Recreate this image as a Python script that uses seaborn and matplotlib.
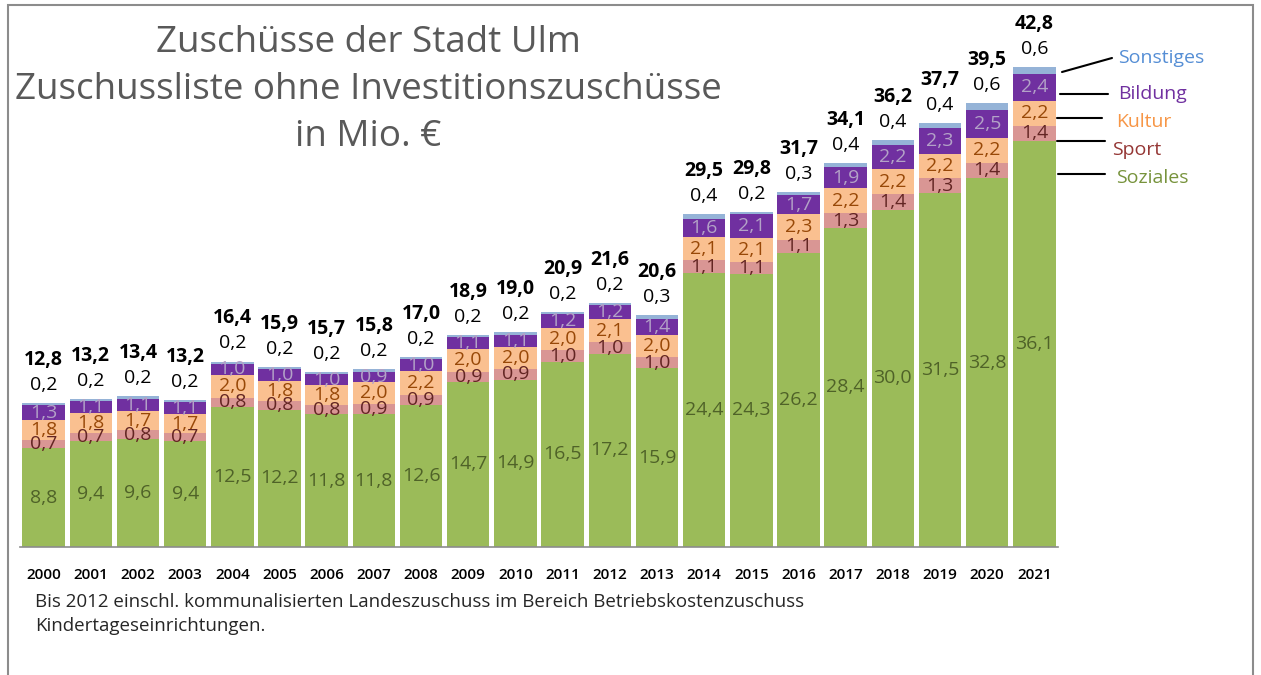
import numpy as np
import matplotlib
matplotlib.use("Agg")
import matplotlib.pyplot as plt
import seaborn as sns
from matplotlib.patches import Rectangle

sns.set_style("white")
plt.rcParams["font.family"] = ["Open Sans", "DejaVu Sans"]

years = [str(y) for y in range(2000, 2022)]
soziales = [8.8, 9.4, 9.6, 9.4, 12.5, 12.2, 11.8, 11.8, 12.6, 14.7, 14.9,
            16.5, 17.2, 15.9, 24.4, 24.3, 26.2, 28.4, 30.0, 31.5, 32.8, 36.1]
sport = [0.7, 0.7, 0.8, 0.7, 0.8, 0.8, 0.8, 0.9, 0.9, 0.9, 0.9,
         1.0, 1.0, 1.0, 1.1, 1.1, 1.1, 1.3, 1.4, 1.3, 1.4, 1.4]
kultur = [1.8, 1.8, 1.7, 1.7, 2.0, 1.8, 1.8, 2.0, 2.2, 2.0, 2.0,
          2.0, 2.1, 2.0, 2.1, 2.1, 2.3, 2.2, 2.2, 2.2, 2.2, 2.2]
bildung = [1.3, 1.1, 1.1, 1.1, 1.0, 1.0, 1.0, 0.9, 1.0, 1.1, 1.1,
           1.2, 1.2, 1.4, 1.6, 2.1, 1.7, 1.9, 2.2, 2.3, 2.5, 2.4]
sonstiges = [0.2, 0.2, 0.2, 0.2, 0.2, 0.2, 0.2, 0.2, 0.2, 0.2, 0.2,
             0.2, 0.2, 0.3, 0.4, 0.2, 0.3, 0.4, 0.4, 0.4, 0.6, 0.6]
gesamt = [12.8, 13.2, 13.4, 13.2, 16.4, 15.9, 15.7, 15.8, 17.0, 18.9, 19.0,
          20.9, 21.6, 20.6, 29.5, 29.8, 31.7, 34.1, 36.2, 37.7, 39.5, 42.8]

names = ["Soziales", "Sport", "Kultur", "Bildung", "Sonstiges"]
series = [soziales, sport, kultur, bildung, sonstiges]
bar_colors = ["#9BBB59", "#D99694", "#FAC090", "#7030A0", "#95B3D7"]
label_colors = ["#4F6228", "#632523", "#984807", "#B3A2C7", "black"]
legend_colors = ["#77933C", "#953735", "#F79646", "#7030A0", "#558ED5"]


def fmt(v):
    return f"{v:.1f}".replace(".", ",")


fig = plt.figure(figsize=(12.61, 6.75), dpi=100)
ax = fig.add_axes([20 / 1261, 128 / 675, 1038 / 1261, 517 / 675])

cum = np.cumsum(np.array(series), axis=0)
x = np.arange(len(years))

# overlapping cumulative bars, tallest first
for i in range(len(series) - 1, -1, -1):
    sns.barplot(x=years, y=cum[i], color=bar_colors[i], saturation=1,
                width=0.9, linewidth=0, ax=ax)

# value labels inside the segments
for i in range(4):
    base = cum[i - 1] if i > 0 else np.zeros(len(years))
    for j in range(len(years)):
        ax.text(x[j], base[j] + series[i][j] / 2, fmt(series[i][j]),
                ha="center", va="center", fontsize=14, color=label_colors[i])

# Sonstiges and totals above bars
for j in range(len(years)):
    ax.annotate(fmt(sonstiges[j]), xy=(x[j], cum[4][j]), xytext=(0, 13),
                textcoords="offset points", ha="center", va="center",
                fontsize=14, color="black")
    ax.annotate(fmt(gesamt[j]), xy=(x[j], cum[4][j]), xytext=(0, 31),
                textcoords="offset points", ha="center", va="center",
                fontsize=14, fontweight="bold", color="black")

ax.set_xlim(-0.5, len(years) - 0.5)
ax.set_ylim(0, 46)
ax.set_yticks([])
ax.set_xlabel("")
ax.set_ylabel("")
for s in ["top", "right", "left"]:
    ax.spines[s].set_visible(False)
ax.spines["bottom"].set_color("#8c8c8c")
ax.spines["bottom"].set_linewidth(1.2)
ax.tick_params(axis="x", length=0, pad=15, labelsize=11, labelcolor="black")
for t in ax.get_xticklabels():
    t.set_fontweight("semibold")

# legend with leader lines (figure pixel positions, origin bottom-left)
leg_pos = [  # (line start, line end, text pos)
    ((1058, 675 - 174), (1105, 675 - 174), (1116, 675 - 178)),
    ((1057, 675 - 141), (1105, 675 - 141), (1112, 675 - 150)),
    ((1057, 675 - 118), (1102, 675 - 118), (1116, 675 - 122)),
    ((1060, 675 - 94), (1108, 675 - 94), (1118, 675 - 94)),
    ((1062, 675 - 72), (1112, 675 - 58), (1118, 675 - 58)),
]
for i, (p0, p1, pt) in enumerate(leg_pos):
    fig.lines.append(plt.Line2D([p0[0] / 1261, p1[0] / 1261],
                                [p0[1] / 675, p1[1] / 675],
                                transform=fig.transFigure, color="black", lw=1.5))
    fig.text(pt[0] / 1261, pt[1] / 675, names[i], ha="left", va="center",
             fontsize=14, color=legend_colors[i])

fig.text(368 / 1261, 1 - 90 / 675,
         "Zuschüsse der Stadt Ulm\nZuschussliste ohne Investitionszuschüsse\nin Mio. €",
         ha="center", va="center", fontsize=26.5, color="#595959", linespacing=1.42)

fig.text(35 / 1261, 1 - 614 / 675,
         "Bis 2012 einschl. kommunalisierten Landeszuschuss im Bereich Betriebskostenzuschuss\n"
         "Kindertageseinrichtungen.",
         ha="left", va="center", fontsize=13.5, color="#262626", linespacing=1.4)

fig.patches.append(Rectangle((8 / 1261, -0.02), 1245 / 1261, 1 - 5 / 675 + 0.02,
                             transform=fig.transFigure, fill=False,
                             edgecolor="#8c8c8c", lw=1.5))

fig.savefig("out.png", dpi=100)
